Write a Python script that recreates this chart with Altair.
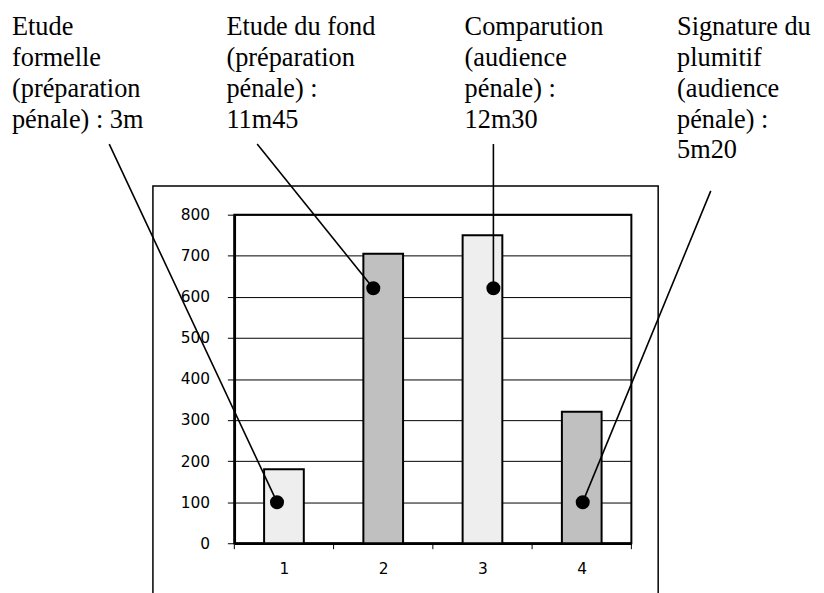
import altair as alt
import pandas as pd

# Bars
cats = [1, 2, 3, 4]
values = [180, 705, 750, 320]
shade = ["light", "dark", "light", "dark"]

# Annotation dots and leader lines (data units)
dot_x = [0.93, 1.90, 3.11, 4.01]
dot_y = [100, 621, 621, 100]
lead_x = [-0.76, 0.73, 3.11, 5.30]
lead_y = [972, 972, 972, 858]

# Annotation texts (data units)
labels = [
    "Etude\nformelle\n(préparation\npénale) : 3m",
    "Etude du fond\n(préparation\npénale) :\n11m45",
    "Comparution\n(audience\npénale) :\n12m30",
    "Signature du\nplumitif\n(audience\npénale) :\n5m20",
]
label_x = [-1.74, 0.42, 2.82, 4.96]
label_y = [1237, 1237, 1237, 1237]

tick_x = [0.5, 1.5, 2.5, 3.5, 4.5]
y_ticks = [0, 100, 200, 300, 400, 500, 600, 700, 800]

bars_df = pd.DataFrame({"cat": cats, "value": values, "shade": shade})
ann_df = pd.DataFrame({"dx": dot_x, "dy": dot_y, "lx": lead_x, "ly": lead_y,
                       "tx": label_x, "ty": label_y, "label": labels})
ticks_df = pd.DataFrame({"t": tick_x})

xs = alt.Scale(domain=[0.5, 4.5], nice=False, zero=False)
ys = alt.Scale(domain=[0, 800], nice=False)

outer = alt.Chart(pd.DataFrame({"a": [0]})).mark_rect(
    fill=None, stroke="black", strokeWidth=1.5
).encode(x=alt.value(-82), x2=alt.value(427), y=alt.value(-29), y2=alt.value(400))

bars = alt.Chart(bars_df).transform_calculate(
    x0="datum.cat - 0.2", x1="datum.cat + 0.2", base="0"
).mark_bar(stroke="black", strokeWidth=2).encode(
    x=alt.X("x0:Q", scale=xs,
            axis=alt.Axis(values=cats, ticks=False, grid=False, title=None,
                          format="d", labelPadding=18, labelFontSize=15.5,
                          labelFont="DejaVu Sans")),
    x2="x1:Q",
    y=alt.Y("value:Q", scale=ys,
            axis=alt.Axis(values=y_ticks, grid=True, title=None, tickSize=7,
                          labelPadding=18, labelFontSize=15.5,
                          labelFont="DejaVu Sans")),
    y2="base:Q",
    fill=alt.Fill("shade:N", scale=alt.Scale(domain=["light", "dark"],
                                             range=["#eeeeee", "#c0c0c0"]),
                  legend=None),
)

xticks = alt.Chart(ticks_df).mark_rule(color="black", strokeWidth=1).encode(
    x=alt.X("t:Q", scale=xs), y=alt.value(331), y2=alt.value(337)
)

leaders = alt.Chart(ann_df).mark_rule(color="black", strokeWidth=1.6).encode(
    x=alt.X("lx:Q", scale=xs), y=alt.Y("ly:Q", scale=ys),
    x2="dx:Q", y2="dy:Q"
)

dots = alt.Chart(ann_df).mark_circle(color="black", opacity=1, size=200).encode(
    x=alt.X("dx:Q", scale=xs), y=alt.Y("dy:Q", scale=ys)
)

texts = alt.Chart(ann_df).mark_text(
    align="left", baseline="alphabetic",
    font="Liberation Serif, Times New Roman, Times, serif", fontSize=26.5,
    lineBreak="\n", lineHeight=31, color="black"
).encode(
    x=alt.X("tx:Q", scale=xs), y=alt.Y("ty:Q", scale=ys), text="label:N"
)

chart = alt.layer(outer, bars, xticks, leaders, dots, texts).properties(
    width=400, height=331,
    autosize=alt.AutoSizeParams(type="none"),
    padding={"left": 228, "top": 206, "right": 186, "bottom": 60},
).configure_view(stroke="black", strokeWidth=2).configure_axis(
    labelColor="black",
    tickColor="black", domainColor="black", domainWidth=2.5,
    gridColor="black", gridWidth=1, gridOpacity=1,
)

chart.save("out.html", embed_options={"renderer": "svg", "actions": False})
